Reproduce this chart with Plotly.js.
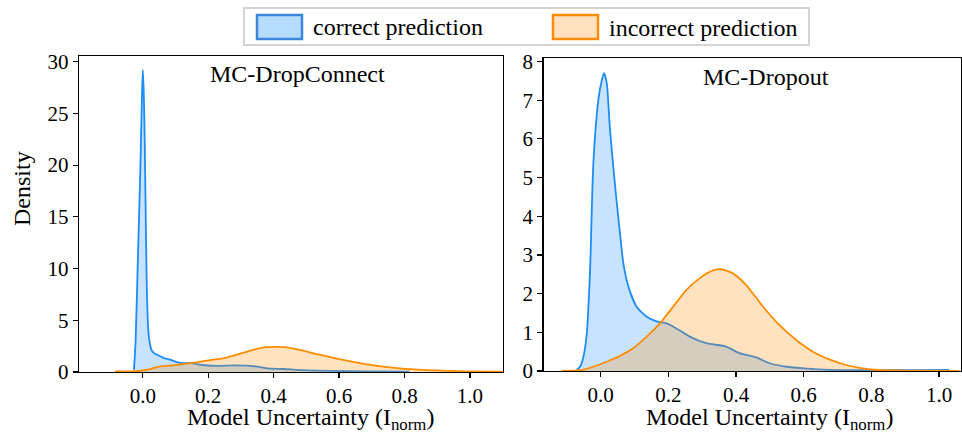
<!DOCTYPE html>
<html>
<head>
<meta charset="utf-8">
<script src="https://cdn.plot.ly/plotly-3.0.1.min.js"></script>
<style>html,body{margin:0;padding:0;background:#fff;}#chart{width:962px;height:434px;}</style>
</head>
<body>
<div id="chart"></div>
<script>
// MC-DropConnect (left panel)
const dcCorrectX = [-0.027,-0.022,-0.015,-0.008,-0.003,0.0,0.003,0.006,0.009,0.012,0.015,0.018,0.022,0.027,0.035,0.048,0.065,0.083,0.104,0.125,0.145,0.175,0.226,0.277,0.328,0.36,0.38,0.43,0.48,0.58,0.68,0.815];
const dcCorrectY = [0.2,3,11,19,26,29.2,27,22,15,8.6,5.2,3.6,2.7,2.1,1.8,1.6,1.35,1.2,0.95,0.85,0.87,0.7,0.6,0.64,0.6,0.48,0.35,0.29,0.19,0.1,0.05,0.03];
const dcIncorrectX = [-0.085,-0.03,0.012,0.053,0.094,0.134,0.196,0.257,0.3,0.338,0.38,0.43,0.48,0.54,0.6,0.68,0.77,0.84,0.89,0.99,1.1];
const dcIncorrectY = [0.05,0.06,0.2,0.55,0.65,0.8,1.1,1.4,1.8,2.15,2.4,2.4,2.15,1.67,1.25,0.77,0.39,0.22,0.16,0.06,0.03];
// MC-Dropout (right panel)
const doCorrectX = [-0.071,-0.061,-0.051,-0.041,-0.031,-0.022,-0.007,0.003,0.01,0.018,0.027,0.037,0.047,0.057,0.067,0.082,0.106,0.136,0.165,0.195,0.224,0.263,0.312,0.371,0.41,0.46,0.5,0.55,0.6,0.676,0.8,0.95,1.03];
const doCorrectY = [0.03,0.11,0.37,0.97,2.7,5.3,7.0,7.5,7.7,7.44,6.3,5.3,4.4,3.56,2.78,2.18,1.66,1.4,1.28,1.23,1.1,0.89,0.72,0.63,0.46,0.35,0.2,0.11,0.07,0.03,0.02,0.02,0.03];
const doIncorrectX = [-0.115,-0.06,-0.022,0.018,0.057,0.096,0.136,0.175,0.214,0.253,0.293,0.332,0.357,0.39,0.43,0.48,0.528,0.578,0.627,0.676,0.725,0.774,0.823,0.92,1.06];
const doIncorrectY = [0,0.02,0.11,0.24,0.39,0.59,0.89,1.23,1.66,2.09,2.4,2.6,2.63,2.53,2.22,1.66,1.19,0.8,0.5,0.3,0.155,0.07,0.026,0.01,0];

const legendLabels = ['correct prediction','incorrect prediction'];
const panelTitles = ['MC-DropConnect','MC-Dropout'];

const blue = '#1e8cf5', blueFill = 'rgba(30,144,255,0.25)';
const orange = '#ff8c00', orangeFill = 'rgba(255,140,0,0.25)';
const W = 962, H = 434;
const px = v => v / W, py = v => 1 - v / H;
const font = 'Liberation Serif';

function tr(x, y, xa, ya, line, fill) {
  return {x: x, y: y, xaxis: xa, yaxis: ya, type: 'scatter', mode: 'lines',
    line: {color: line, width: 1.8, shape: 'spline', smoothing: 0.6}, fill: 'tozeroy', fillcolor: fill,
    showlegend: false, hoverinfo: 'skip'};
}
const data = [
  tr(dcCorrectX, dcCorrectY, 'x', 'y', blue, blueFill),
  tr(dcIncorrectX, dcIncorrectY, 'x', 'y', orange, orangeFill),
  tr(doCorrectX, doCorrectY, 'x2', 'y2', blue, blueFill),
  tr(doIncorrectX, doIncorrectY, 'x2', 'y2', orange, orangeFill)
];

const axBase = {showgrid: false, zeroline: false, showline: true, linecolor: '#000', linewidth: 1.2,
  mirror: true, ticks: 'outside', ticklen: 5, tickwidth: 1.2, tickcolor: '#000',
  tickfont: {family: font, size: 21, color: '#000'}};

const layout = {
  width: W, height: H, margin: {l: 0, r: 0, t: 0, b: 0},
  paper_bgcolor: '#fff', plot_bgcolor: '#fff', showlegend: false,
  font: {family: font, color: '#000'},
  xaxis: Object.assign({}, axBase, {domain: [px(79), px(503)], range: [-0.195, 1.101], dtick: 0.2, tick0: 0, tickformat: '.1f', anchor: 'y'}),
  yaxis: Object.assign({}, axBase, {domain: [1 - 372 / H, 1 - 56 / H], range: [0, 30.55], dtick: 5, tick0: 0, anchor: 'x'}),
  xaxis2: Object.assign({}, axBase, {domain: [px(543.5), px(961)], range: [-0.169, 1.065], dtick: 0.2, tick0: 0, tickformat: '.1f', anchor: 'y2'}),
  yaxis2: Object.assign({}, axBase, {domain: [1 - 371 / H, 1 - 58 / H], range: [0, 8.09], dtick: 1, tick0: 0, anchor: 'x2'}),
  shapes: [
    {type: 'rect', xref: 'paper', yref: 'paper', x0: px(244), x1: px(809), y0: py(45), y1: py(8),
      line: {color: '#d4d4d4', width: 2}, fillcolor: 'rgba(255,255,255,0.8)'},
    {type: 'rect', xref: 'paper', yref: 'paper', x0: px(257), x1: px(302), y0: py(39), y1: py(15),
      line: {color: '#3a86d9', width: 2.5}, fillcolor: '#b5dcff'},
    {type: 'rect', xref: 'paper', yref: 'paper', x0: px(553), x1: px(598), y0: py(39), y1: py(15),
      line: {color: orange, width: 2.5}, fillcolor: '#ffe0bf'}
  ],
  annotations: [
    {xref: 'paper', yref: 'paper', x: px(311), y: py(27), text: legendLabels[0], showarrow: false, xanchor: 'left', yanchor: 'middle', font: {family: font, size: 24, color: '#000'}},
    {xref: 'paper', yref: 'paper', x: px(607), y: py(28), text: legendLabels[1], showarrow: false, xanchor: 'left', yanchor: 'middle', font: {family: font, size: 24, color: '#000'}},
    {xref: 'paper', yref: 'paper', x: px(297), y: py(74), text: panelTitles[0], showarrow: false, xanchor: 'center', yanchor: 'middle', font: {family: font, size: 24, color: '#000'}},
    {xref: 'paper', yref: 'paper', x: px(766), y: py(77), text: panelTitles[1], showarrow: false, xanchor: 'center', yanchor: 'middle', font: {family: font, size: 24, color: '#000'}},
    {xref: 'paper', yref: 'paper', x: px(310), y: py(419), text: 'Model Uncertainty (I<sub>norm</sub>)', showarrow: false, xanchor: 'center', yanchor: 'middle', font: {family: font, size: 24, color: '#000'}},
    {xref: 'paper', yref: 'paper', x: px(769), y: py(419), text: 'Model Uncertainty (I<sub>norm</sub>)', showarrow: false, xanchor: 'center', yanchor: 'middle', font: {family: font, size: 24, color: '#000'}},
    {xref: 'paper', yref: 'paper', x: px(22), y: py(189), text: 'Density', showarrow: false, textangle: -90, xanchor: 'center', yanchor: 'middle', font: {family: font, size: 24, color: '#000'}}
  ]
};
Plotly.newPlot('chart', data, layout, {displayModeBar: false, staticPlot: true});
</script>
</body>
</html>
